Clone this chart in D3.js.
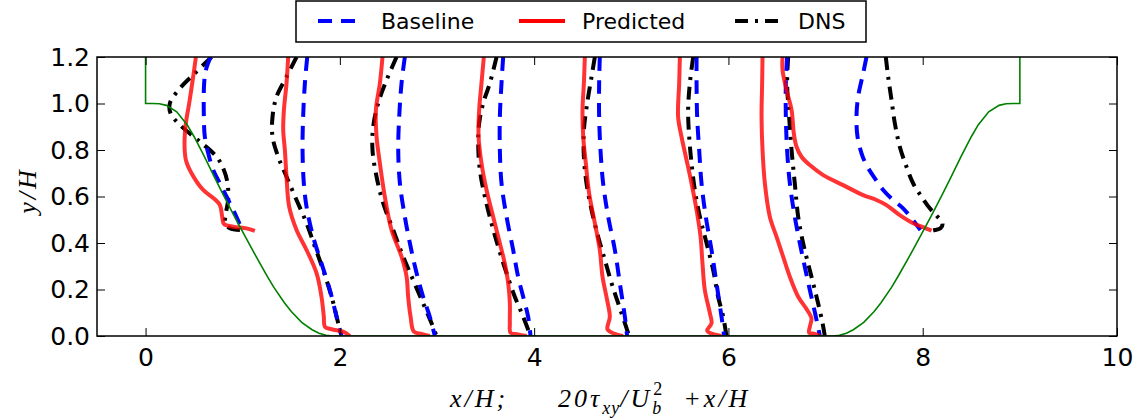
<!DOCTYPE html>
<html lang="en">
<head>
<meta charset="UTF-8">
<title>Reynolds shear stress profiles</title>
<script src="https://d3js.org/d3.v7.min.js"></script>
<style>
  body { margin: 0; padding: 0; background: #fff; }
  svg { display: block; }
  text { font-family: "DejaVu Sans", sans-serif; fill: #000; }
  .mathlabel { font-family: "Liberation Serif", "Times New Roman", serif; font-style: italic; font-size: 26px; letter-spacing: 3px; }
</style>
</head>
<body>
<script>
  const width = 1141
  const height = 419
  const margin = { top: 57, right: 24, bottom: 83, left: 97 }

  // measurement stations x/H
  const stations = [1, 2, 3, 4, 5, 6, 7, 8]

  // profiles: [20*tau_xy/Ub^2, y/H] per station (plotted at value + station)
  const baseline = [
    [[-0.331, 1.2], [-0.379, 1.144], [-0.397, 1.087], [-0.400, 0.943], [-0.390, 0.857], [-0.355, 0.786], [-0.304, 0.714], [-0.235, 0.657], [-0.149, 0.585], [-0.081, 0.528], [-0.012, 0.463]],
    [[-0.336, 1.2], [-0.360, 1.087], [-0.378, 0.943], [-0.384, 0.800], [-0.371, 0.657], [-0.343, 0.556], [-0.275, 0.427], [-0.189, 0.312], [-0.103, 0.198], [-0.034, 0.083], [0.017, 0.0]],
    [[-0.331, 1.2], [-0.365, 1.087], [-0.389, 0.943], [-0.399, 0.800], [-0.382, 0.657], [-0.331, 0.513], [-0.279, 0.399], [-0.218, 0.284], [-0.143, 0.169], [-0.074, 0.083], [-0.022, 0.0]],
    [[-0.319, 1.2], [-0.336, 1.087], [-0.353, 0.943], [-0.353, 0.800], [-0.336, 0.657], [-0.284, 0.513], [-0.216, 0.370], [-0.165, 0.255], [-0.113, 0.169], [-0.062, 0.083], [-0.037, 0.0]],
    [[-0.324, 1.2], [-0.331, 1.087], [-0.331, 0.943], [-0.317, 0.800], [-0.290, 0.657], [-0.238, 0.513], [-0.169, 0.370], [-0.118, 0.227], [-0.066, 0.083], [-0.043, 0.0]],
    [[-0.328, 1.2], [-0.328, 1.087], [-0.322, 0.943], [-0.301, 0.800], [-0.277, 0.657], [-0.233, 0.513], [-0.174, 0.370], [-0.123, 0.227], [-0.071, 0.083], [-0.044, 0.0]],
    [[-0.396, 1.2], [-0.409, 1.087], [-0.409, 0.943], [-0.396, 0.800], [-0.368, 0.657], [-0.317, 0.513], [-0.265, 0.399], [-0.214, 0.298], [-0.162, 0.198], [-0.100, 0.083], [-0.059, 0.0]],
    [[-0.579, 1.2], [-0.613, 1.130], [-0.665, 1.029], [-0.682, 0.943], [-0.671, 0.857], [-0.630, 0.786], [-0.579, 0.735], [-0.493, 0.678], [-0.407, 0.628], [-0.305, 0.585], [-0.202, 0.549], [-0.115, 0.506], [-0.023, 0.456]]
  ]

  const predicted = [
    [[-0.482, 1.2], [-0.510, 1.115], [-0.551, 1.001], [-0.585, 0.915], [-0.599, 0.829], [-0.585, 0.757], [-0.527, 0.700], [-0.407, 0.628], [-0.287, 0.588], [-0.235, 0.563], [-0.211, 0.513], [-0.194, 0.482], [-0.098, 0.470], [0.039, 0.463], [0.125, 0.452]],
    [[-0.532, 1.2], [-0.549, 1.087], [-0.576, 0.972], [-0.583, 0.886], [-0.566, 0.800], [-0.549, 0.685], [-0.522, 0.556], [-0.446, 0.456], [-0.343, 0.370], [-0.240, 0.270], [-0.189, 0.169], [-0.165, 0.083], [-0.154, 0.040], [-0.085, 0.029], [0.034, 0.019], [0.103, 0.0]],
    [[-0.561, 1.2], [-0.588, 1.087], [-0.629, 0.972], [-0.622, 0.857], [-0.588, 0.743], [-0.537, 0.599], [-0.468, 0.456], [-0.365, 0.341], [-0.313, 0.255], [-0.297, 0.169], [-0.272, 0.083], [-0.238, 0.019], [-0.159, 0.009], [-0.074, 0.0]],
    [[-0.518, 1.2], [-0.542, 1.087], [-0.566, 0.972], [-0.572, 0.857], [-0.542, 0.743], [-0.490, 0.628], [-0.422, 0.513], [-0.353, 0.399], [-0.302, 0.312], [-0.267, 0.227], [-0.250, 0.141], [-0.250, 0.055], [-0.243, 0.014], [-0.165, 0.007], [-0.078, 0.0]],
    [[-0.478, 1.2], [-0.488, 1.087], [-0.502, 0.972], [-0.495, 0.857], [-0.468, 0.743], [-0.434, 0.614], [-0.375, 0.485], [-0.324, 0.370], [-0.296, 0.255], [-0.249, 0.155], [-0.221, 0.083], [-0.245, 0.029], [-0.187, 0.012], [-0.084, 0.0]],
    [[-0.500, 1.2], [-0.507, 1.087], [-0.518, 0.943], [-0.483, 0.857], [-0.431, 0.757], [-0.380, 0.657], [-0.328, 0.542], [-0.287, 0.427], [-0.267, 0.312], [-0.243, 0.198], [-0.191, 0.098], [-0.174, 0.055], [-0.219, 0.023], [-0.174, 0.010], [-0.071, 0.0]],
    [[-0.649, 1.2], [-0.653, 1.087], [-0.659, 0.943], [-0.649, 0.800], [-0.625, 0.657], [-0.574, 0.513], [-0.505, 0.427], [-0.437, 0.341], [-0.368, 0.255], [-0.282, 0.169], [-0.190, 0.112], [-0.145, 0.076], [-0.162, 0.040], [-0.169, 0.014], [-0.110, 0.009], [-0.059, 0.0]],
    [[-1.443, 1.2], [-1.443, 1.144], [-1.402, 1.058], [-1.350, 0.972], [-1.327, 0.872], [-1.299, 0.814], [-1.248, 0.771], [-1.162, 0.735], [-1.025, 0.692], [-0.819, 0.649], [-0.613, 0.606], [-0.476, 0.585], [-0.373, 0.563], [-0.236, 0.520], [-0.099, 0.485], [0.004, 0.468], [0.091, 0.453]]
  ]

  const dns = [
    [[-0.321, 1.2], [-0.510, 1.123], [-0.647, 1.065], [-0.750, 1.001], [-0.743, 0.958], [-0.647, 0.908], [-0.441, 0.836], [-0.269, 0.771], [-0.194, 0.714], [-0.156, 0.657], [-0.150, 0.585], [-0.173, 0.528], [-0.180, 0.485], [-0.132, 0.463], [-0.029, 0.456]],
    [[-0.446, 1.2], [-0.549, 1.115], [-0.652, 1.029], [-0.693, 0.943], [-0.693, 0.857], [-0.635, 0.771], [-0.549, 0.685], [-0.446, 0.585], [-0.343, 0.485], [-0.257, 0.384], [-0.172, 0.284], [-0.085, 0.169], [-0.017, 0.055], [0.017, 0.0]],
    [[-0.416, 1.2], [-0.519, 1.101], [-0.606, 1.001], [-0.657, 0.900], [-0.664, 0.800], [-0.622, 0.685], [-0.554, 0.571], [-0.451, 0.456], [-0.348, 0.341], [-0.246, 0.241], [-0.143, 0.141], [-0.056, 0.055], [-0.005, 0.0]],
    [[-0.387, 1.2], [-0.456, 1.087], [-0.525, 1.001], [-0.566, 0.915], [-0.576, 0.829], [-0.559, 0.714], [-0.507, 0.599], [-0.439, 0.485], [-0.360, 0.370], [-0.284, 0.270], [-0.199, 0.169], [-0.113, 0.083], [-0.037, 0.0]],
    [[-0.375, 1.2], [-0.409, 1.115], [-0.454, 1.001], [-0.488, 0.886], [-0.488, 0.771], [-0.461, 0.657], [-0.409, 0.542], [-0.341, 0.427], [-0.272, 0.327], [-0.203, 0.227], [-0.135, 0.141], [-0.066, 0.055], [-0.022, 0.0]],
    [[-0.363, 1.2], [-0.397, 1.087], [-0.415, 0.972], [-0.404, 0.857], [-0.380, 0.743], [-0.346, 0.628], [-0.294, 0.513], [-0.225, 0.399], [-0.157, 0.284], [-0.106, 0.169], [-0.054, 0.083], [-0.020, 0.0]],
    [[-0.385, 1.2], [-0.396, 1.087], [-0.375, 0.943], [-0.350, 0.800], [-0.317, 0.657], [-0.282, 0.513], [-0.231, 0.399], [-0.180, 0.312], [-0.128, 0.227], [-0.077, 0.141], [-0.031, 0.055], [-0.008, 0.0]],
    [[-0.380, 1.2], [-0.356, 1.115], [-0.321, 1.015], [-0.287, 0.915], [-0.236, 0.814], [-0.167, 0.728], [-0.099, 0.657], [-0.012, 0.599], [0.073, 0.549], [0.142, 0.518], [0.204, 0.485], [0.183, 0.463], [0.125, 0.456], [0.066, 0.452]]
  ]

  // hill outline [x/H, y/H]
  const hill = [
    [0, 1.2], [0, 1.0], [0.071, 1.0], [0.143, 0.999], [0.214, 0.992], [0.321, 0.964], [0.429, 0.908], [0.5, 0.857],
    [0.607, 0.770], [0.714, 0.679], [0.786, 0.619], [0.893, 0.532], [0.964, 0.476], [1.071, 0.393], [1.143, 0.338],
    [1.25, 0.259], [1.321, 0.209], [1.429, 0.143], [1.5, 0.105], [1.607, 0.059], [1.714, 0.027], [1.786, 0.012],
    [1.857, 0.003], [1.929, 0],
    [7.071, 0], [7.143, 0.003], [7.214, 0.012], [7.286, 0.027], [7.393, 0.059], [7.5, 0.105], [7.571, 0.143],
    [7.679, 0.209], [7.75, 0.259], [7.857, 0.338], [7.929, 0.393], [8.036, 0.476], [8.107, 0.532], [8.214, 0.619],
    [8.286, 0.679], [8.393, 0.770], [8.5, 0.857], [8.571, 0.908], [8.679, 0.964], [8.786, 0.992], [8.857, 0.999],
    [8.929, 1.0], [9, 1.0], [9, 1.2]
  ]

  const xTicks = [0, 2, 4, 6, 8, 10]
  const yTicks = [0, 0.2, 0.4, 0.6, 0.8, 1.0, 1.2]

  const series = [
    { name: "Baseline", data: baseline, color: "blue", dash: "14,9", opacity: 1 },
    { name: "Predicted", data: predicted, color: "red", dash: null, opacity: 0.8 },
    { name: "DNS", data: dns, color: "black", dash: "13,7,3,7", opacity: 1 }
  ]

  const x = d3.scaleLinear().domain([-0.5, 10]).range([margin.left, width - margin.right])
  const y = d3.scaleLinear().domain([0, 1.2]).range([height - margin.bottom, margin.top])

  const svg = d3.select("body").append("svg")
    .attr("width", width)
    .attr("height", height)

  svg.append("defs").append("clipPath").attr("id", "plotclip")
    .append("rect")
    .attr("x", x(-0.5)).attr("y", y(1.2))
    .attr("width", x(10) - x(-0.5)).attr("height", y(0) - y(1.2))

  const plot = svg.append("g").attr("clip-path", "url(#plotclip)")

  const profileLine = st => d3.line()
    .x(d => x(d[0] + st))
    .y(d => y(d[1]))
    .curve(d3.curveCatmullRom.alpha(0.5))

  // draw order: DNS, baseline, predicted
  const drawOrder = [series[2], series[0], series[1]]
  drawOrder.forEach(s => {
    plot.append("g")
      .attr("fill", "none")
      .attr("stroke", s.color)
      .attr("stroke-opacity", s.opacity)
      .attr("stroke-width", 4)
      .attr("stroke-linejoin", "round")
      .attr("stroke-dasharray", s.dash)
      .selectAll("path")
      .data(s.data)
      .join("path")
      .attr("d", (d, i) => profileLine(stations[i])(d))
  })

  plot.append("path")
    .datum(hill)
    .attr("fill", "none")
    .attr("stroke", "green")
    .attr("stroke-width", 1.6)
    .attr("d", d3.line().x(d => x(d[0])).y(d => y(d[1])))

  // axes: ticks inward on all four sides
  const tickLen = 8
  const styleAxis = g => {
    g.select(".domain").remove()
    g.selectAll(".tick line").attr("stroke", "#000").attr("stroke-width", 1)
    g.selectAll(".tick text").style("font-family", "DejaVu Sans, sans-serif").style("font-size", "25px").attr("fill", "#000")
  }

  svg.append("g")
    .attr("transform", `translate(0,${y(0)})`)
    .call(d3.axisBottom(x).tickValues(xTicks).tickFormat(d3.format("d")).tickSizeInner(-tickLen).tickSizeOuter(0).tickPadding(12))
    .call(styleAxis)

  svg.append("g")
    .attr("transform", `translate(0,${y(1.2)})`)
    .call(d3.axisTop(x).tickValues(xTicks).tickFormat("").tickSizeInner(-tickLen).tickSizeOuter(0))
    .call(styleAxis)

  svg.append("g")
    .attr("transform", `translate(${x(-0.5)},0)`)
    .call(d3.axisLeft(y).tickValues(yTicks).tickFormat(d3.format(".1f")).tickSizeInner(-tickLen).tickSizeOuter(0).tickPadding(7))
    .call(styleAxis)

  svg.append("g")
    .attr("transform", `translate(${x(10)},0)`)
    .call(d3.axisRight(y).tickValues(yTicks).tickFormat("").tickSizeInner(-tickLen).tickSizeOuter(0))
    .call(styleAxis)

  // frame
  svg.append("rect")
    .attr("x", x(-0.5)).attr("y", y(1.2))
    .attr("width", x(10) - x(-0.5)).attr("height", y(0) - y(1.2))
    .attr("fill", "none")
    .attr("stroke", "#000")
    .attr("stroke-width", 1.5)

  // axis labels
  svg.append("text")
    .attr("class", "mathlabel")
    .attr("transform", `translate(36,${(y(0) + y(1.2)) / 2 - 6}) rotate(-90)`)
    .attr("text-anchor", "middle")
    .text("y/H")

  svg.append("text")
    .attr("class", "mathlabel")
    .attr("x", 450).attr("y", 407)
    .text("x/H;")

  const xl = svg.append("text")
    .attr("class", "mathlabel")
    .attr("x", 558).attr("y", 407)
  xl.append("tspan").text("20τ")
  xl.append("tspan").attr("dy", 7).style("font-size", "18px").style("letter-spacing", "1px").text("xy")
  xl.append("tspan").attr("dy", -7).text("/U")
  xl.append("tspan").attr("dy", 7).style("font-size", "18px").text("b")
  xl.append("tspan").attr("dx", -11).attr("dy", -19).style("font-size", "18px").style("font-style", "normal").text("2")
  xl.append("tspan").attr("dx", 18).attr("dy", 12).text("+x/H")

  // legend
  const legend = svg.append("g")
  legend.append("rect")
    .attr("x", 296).attr("y", 1)
    .attr("width", 570).attr("height", 41)
    .attr("fill", "#fff")
    .attr("stroke", "#000")
    .attr("stroke-width", 1.5)

  const legendX = [318, 519, 735]
  series.forEach((s, i) => {
    legend.append("line")
      .attr("x1", legendX[i]).attr("x2", legendX[i] + 46)
      .attr("y1", 21).attr("y2", 21)
      .attr("stroke", s.color)
      .attr("stroke-width", 4)
      .attr("stroke-dasharray", s.dash)
    legend.append("text")
      .attr("x", legendX[i] + 63).attr("y", 21)
      .attr("dy", "0.36em")
      .style("font-size", "22px")
      .text(s.name)
  })
</script>
</body>
</html>
